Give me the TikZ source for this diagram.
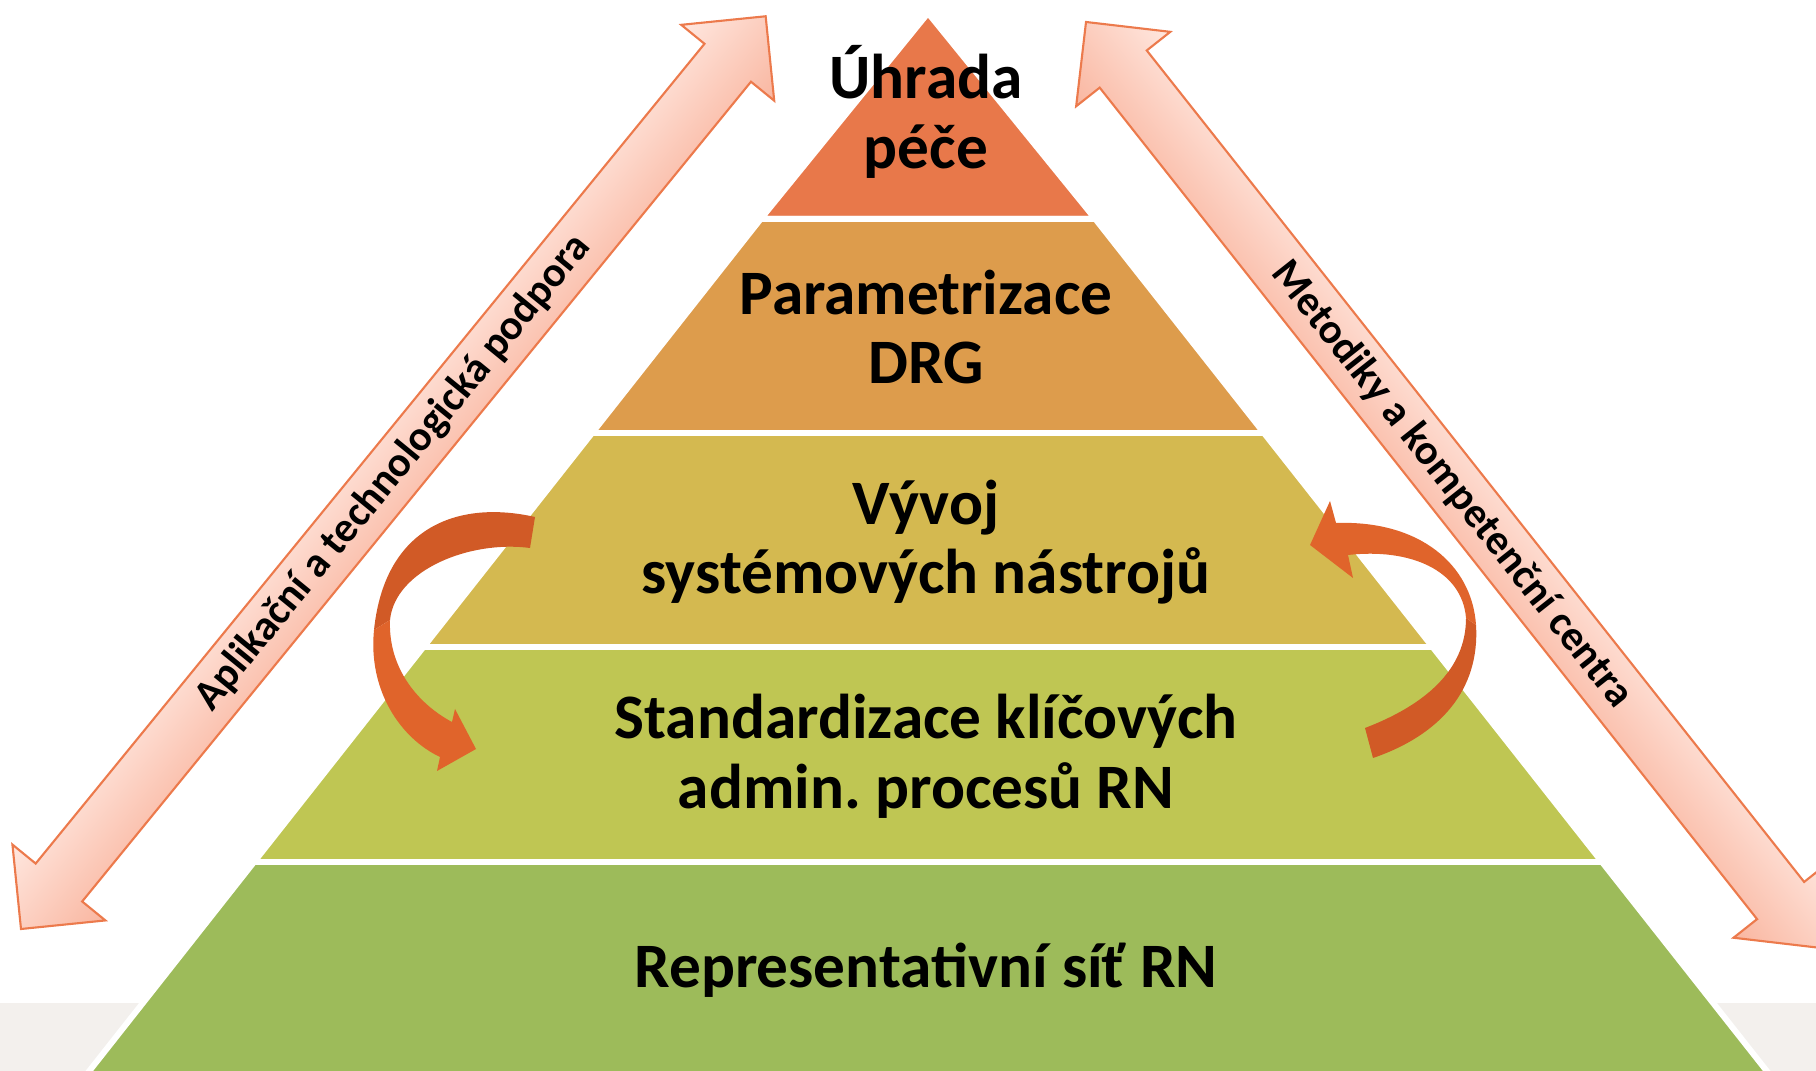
\documentclass[tikz,border=0pt]{standalone}
\usepackage{fontspec}
\setmainfont{Carlito}
\definecolor{layerA}{HTML}{E8784A}
\definecolor{layerB}{HTML}{DD9C4C}
\definecolor{layerC}{HTML}{D4B950}
\definecolor{layerD}{HTML}{BFC653}
\definecolor{layerE}{HTML}{9DBB5A}
\definecolor{sidelight}{HTML}{FFE7DF}
\definecolor{sidedark}{HTML}{F9B6A0}
\definecolor{sideedge}{HTML}{EC7A4C}
\definecolor{curlback}{HTML}{D15A26}
\definecolor{curlfront}{HTML}{E0642B}
\definecolor{floorgray}{HTML}{F3F0ED}
\newcommand\DrawSideArrow[5]{% start, angle, length, name, label
  \begin{scope}[transform canvas={shift={#1},rotate=#2}]
  \begin{scope}[y=0.01cm]
    \pgfmathsetmacro\Lh{#3-\hLen}
    \shadedraw[side arrow] (0,0) -- (\hLen,\hHalf) -- (\hLen,\sHalf) -- (\Lh,\sHalf)
      -- (\Lh,\hHalf) -- (#3,0) -- (\Lh,-\hHalf) -- (\Lh,-\sHalf)
      -- (\hLen,-\sHalf) -- (\hLen,-\hHalf) -- cycle;
    \node[side label] (#4) at ({#3/2},0) {#5};
  \end{scope}
  \end{scope}
}
\tikzset{%
  layer/.style={draw=white,line width=1.7pt,line join=round},
  layer text/.style={font=\bfseries\fontsize{18}{19.8}\selectfont,
    align=center,inner sep=0pt},
  side arrow/.style={draw=sideedge,line width=0.6pt,
    top color=sidelight,bottom color=sidedark},
  side label/.style={font=\bfseries\fontsize{12}{14}\selectfont,inner sep=0pt}%
}

\begin{document}
\begin{tikzpicture}[x=0.01cm,y=-0.01cm] % pixel grid, y downwards
\useasboundingbox (0,0) rectangle (1816,1071);
\def\xA{928} % apex
\def\slope{0.788} % half width per pixel of height
\def\pad{5} % room for the white rim
\def\hLen{60} \def\hHalf{60} \def\sHalf{30} % side arrow heads

\fill[floorgray] (0,1003) rectangle (1816,1071);

% pyramid layers
\foreach \yt/\yb/\col in {13/219/layerA,219/433/layerB,433/647/layerC,
  647/862/layerD,862/1110/layerE}
  \filldraw[layer,fill=\col] ({\xA-\slope*(\yt-13)-\pad*(\yt>13)},\yt)
    -- ({\xA+\slope*(\yt-13)+\pad*(\yt>13)},\yt)
    -- ({\xA+\slope*(\yb-13)+\pad},\yb) -- ({\xA-\slope*(\yb-13)-\pad},\yb) -- cycle;

\node[layer text] (uhrada) at (926,112) {Úhrada\\péče};
\node[layer text] (param) at (926,327) {Parametrizace\\DRG};
\node[layer text] (vyvoj) at (926,542) {Vývoj\\systémových nástrojů};
\node[layer text] (standard) at (926,756) {Standardizace klíčových\\admin.\ procesů RN};
\node[layer text] (repre) at (926,970) {Representativní síť RN};

% left curl
\fill[curlback] (535,517) .. controls (460,500) and (385,525) .. (374,630)
  -- (390,620) .. controls (395,570) and (470,540) .. (530,548) -- cycle;
\fill[curlfront] (374,630) .. controls (368,690) and (400,738) .. (440,757)
  -- (437,771) -- (476,749) -- (455,709) -- (452,722)
  .. controls (420,705) and (388,670) .. (390,620) -- cycle;
% right curl
\fill[curlback] (1373,758) .. controls (1440,735) and (1480,690) .. (1476,625)
  -- (1466,618) .. controls (1466,670) and (1425,705) .. (1365,728) -- cycle;
\fill[curlfront] (1476,625) .. controls (1472,565) and (1420,520) .. (1336,523)
  -- (1330,501) -- (1310,545) -- (1353,578) -- (1348,555)
  .. controls (1410,548) and (1462,570) .. (1466,618) -- cycle;

\DrawSideArrow{(21,929)}{50.79}{1178}{apl}{Aplikační a technologická podpora}
\DrawSideArrow{(1086,22)}{-51.67}{1180}{met}{Metodiky a kompetenční centra}
\end{tikzpicture}
\end{document}
